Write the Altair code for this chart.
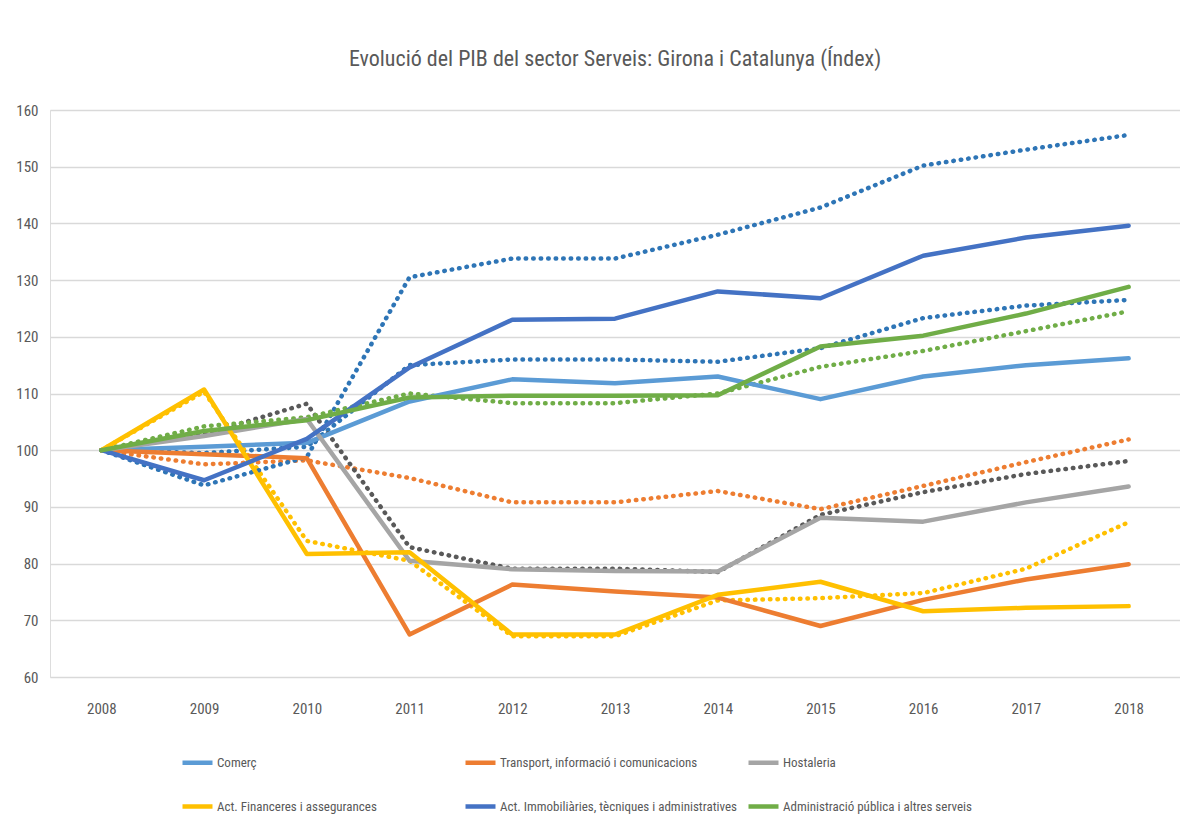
import altair as alt
import pandas as pd

years = [2008, 2009, 2010, 2011, 2012, 2013, 2014, 2015, 2016, 2017, 2018]

sectors = [
    "Comerç",
    "Transport, informació i comunicacions",
    "Hostaleria",
    "Act. Financeres i assegurances",
    "Act. Immobiliàries, tècniques i administratives",
    "Administració pública i altres serveis",
]

# Girona (solid lines)
comerc_g = [100, 100.6, 101.3, 108.6, 112.5, 111.8, 113.0, 109.0, 113.0, 115.0, 116.2]
transport_g = [100, 99.3, 98.6, 67.5, 76.3, 75.1, 74.0, 69.0, 73.6, 77.2, 79.9]
hostaleria_g = [100, 102.5, 105.5, 80.5, 79.0, 78.7, 78.6, 88.1, 87.4, 90.8, 93.6]
financeres_g = [100, 110.7, 81.7, 82.0, 67.5, 67.5, 74.5, 76.8, 71.6, 72.2, 72.5]
immob_g = [100, 94.7, 102.0, 114.6, 123.0, 123.2, 128.0, 126.8, 134.3, 137.5, 139.6]
admin_g = [100, 103.4, 105.3, 109.3, 109.6, 109.6, 109.7, 118.3, 120.2, 124.1, 128.8]

# Catalunya (dotted lines)
comerc_c = [100, 99.5, 100.6, 115.0, 116.0, 116.0, 115.6, 118.0, 123.3, 125.5, 126.5]
transport_c = [100, 97.5, 98.2, 95.1, 90.8, 90.8, 92.8, 89.6, 93.7, 97.9, 101.9]
hostaleria_c = [100, 102.8, 108.2, 82.9, 79.1, 79.1, 78.5, 88.6, 92.6, 95.8, 98.1]
financeres_c = [100, 110.3, 84.0, 80.5, 67.2, 67.2, 73.5, 73.9, 74.8, 79.1, 87.3]
immob_c = [100, 93.8, 98.8, 130.5, 133.8, 133.8, 138.0, 142.8, 150.2, 153.0, 155.6]
admin_c = [100, 104.2, 105.8, 110.0, 108.3, 108.3, 110.0, 114.7, 117.5, 121.0, 124.5]

girona_colors = ["#5B9BD5", "#ED7D31", "#A5A5A5", "#FFC000", "#4472C4", "#70AD47"]
catalunya_colors = ["#2E75B6", "#ED7D31", "#595959", "#FFC000", "#2E75B6", "#70AD47"]

girona_series = [comerc_g, transport_g, hostaleria_g, financeres_g, immob_g, admin_g]
catalunya_series = [comerc_c, transport_c, hostaleria_c, financeres_c, immob_c, admin_c]


def long_table(series_list):
    rows = []
    for name, vals in zip(sectors, series_list):
        for yr, v in zip(years, vals):
            rows.append({"year": yr, "sector": name, "value": v})
    return pd.DataFrame(rows)


df_g = long_table(girona_series)
df_c = long_table(catalunya_series)

FONT = "Liberation Sans Narrow, Roboto Condensed, Arial Narrow, Liberation Sans, sans-serif"
TXT = "#595959"

x_enc = alt.X(
    "year:O",
    scale=alt.Scale(type="point", padding=0.5),
    axis=alt.Axis(
        title=None, labelAngle=0, ticks=False, domain=False, grid=False,
        labelPadding=24, labelFontSize=15, labelColor=TXT, labelFont=FONT,
    ),
)
y_enc = alt.Y(
    "value:Q",
    scale=alt.Scale(domain=[60, 160], nice=False, zero=False),
    axis=alt.Axis(
        title=None, values=list(range(60, 161, 10)), ticks=False, domain=False,
        labelPadding=12, labelFontSize=15, labelColor=TXT, labelFont=FONT,
        gridColor="#D9D9D9", gridWidth=1.4,
    ),
)

dotted = alt.Chart(df_c).mark_line(
    strokeWidth=4.5, strokeDash=[0.5, 7], strokeCap="round"
).encode(
    x=x_enc,
    y=y_enc,
    color=alt.Color(
        "sector:N",
        scale=alt.Scale(domain=sectors, range=catalunya_colors),
        legend=None,
    ),
)

solid = alt.Chart(df_g).mark_line(
    strokeWidth=4.5, strokeCap="round", strokeJoin="round"
).encode(
    x=x_enc,
    y=y_enc,
    color=alt.Color(
        "sector:N",
        scale=alt.Scale(domain=sectors, range=girona_colors),
        sort=sectors,
        legend=alt.Legend(
            title=None,
            orient="none",
            legendX=130,
            legendY=635,
            columns=3,
            direction="horizontal",
            gridAlign="all",
            symbolType="stroke",
            symbolSize=900,
            symbolStrokeWidth=4.5,
            labelFontSize=13,
            labelFont=FONT,
            labelColor=TXT,
            labelLimit=500,
            labelOffset=2,
            rowPadding=17,
            columnPadding=2,
        ),
    ),
)

chart = (
    alt.layer(dotted, solid)
    .resolve_scale(color="independent")
    .properties(
        width=1130,
        height=567,
        title=alt.Title(
            "Evolució del PIB del sector Serveis: Girona i Catalunya (Índex)",
            fontSize=22, color=TXT, font=FONT, fontWeight="normal",
            anchor="middle", offset=32,
        ),
        autosize=alt.AutoSizeParams(type="none"),
        padding={"left": 42, "top": 102, "right": 0, "bottom": 150},
    )
    .configure_view(stroke=None)
    .configure(background="white")
)

chart.save("out.html", embed_options={"renderer": "svg", "actions": False})
